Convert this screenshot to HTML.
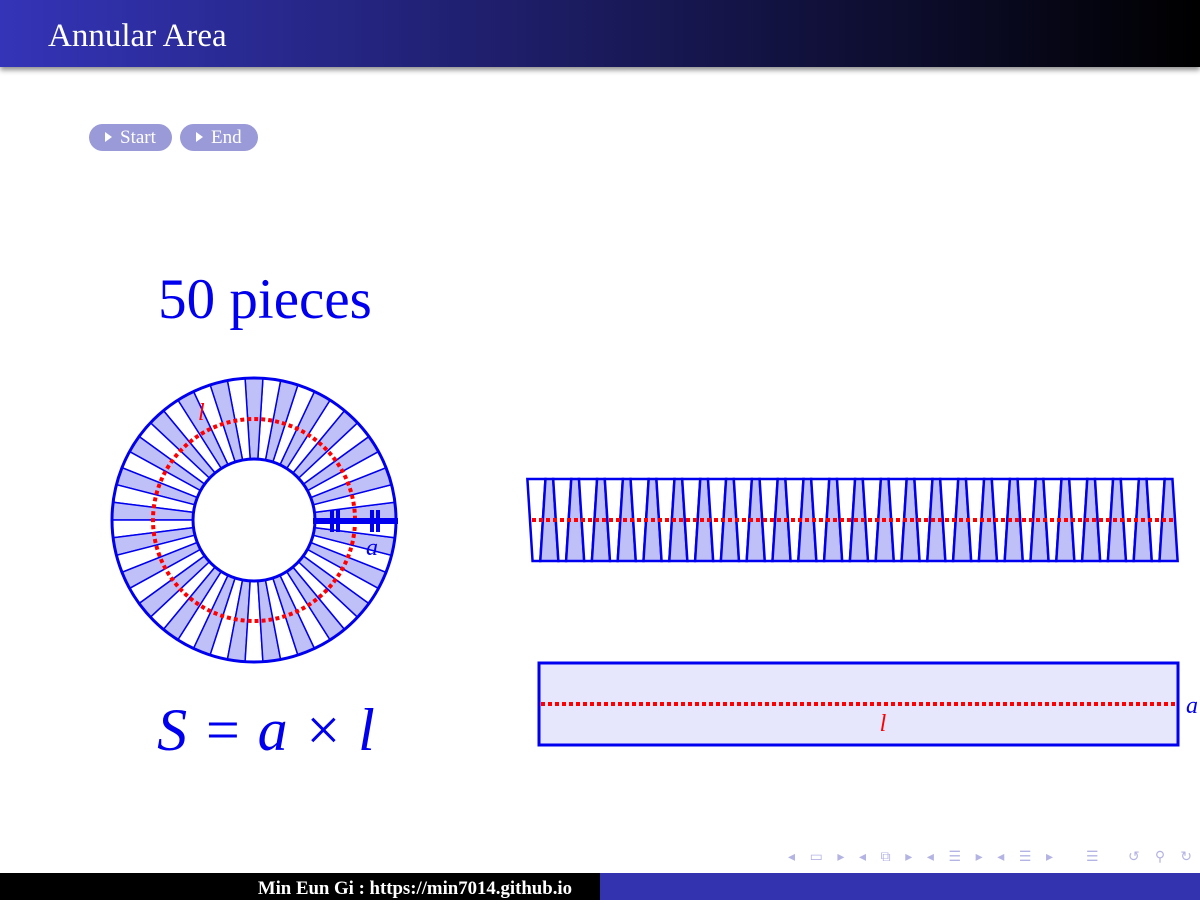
<!DOCTYPE html>
<html><head><meta charset="utf-8"><style>
body{margin:0;width:1200px;height:900px;overflow:hidden;background:#fff;font-family:"Liberation Serif",serif;position:relative}
#hdr{position:absolute;left:0;top:0;width:1200px;height:67px;background:linear-gradient(90deg,#3434b8,#000);box-shadow:0 3px 5px rgba(0,0,0,.45)}
#hdr span{position:absolute;left:48px;top:18px;color:#fff;font-size:33px}
.btn{position:absolute;top:124px;height:27px;border-radius:14px;background:#9a9ad8;color:#fff;font-size:19px;line-height:27px;padding:0 16px 0 16px}
.btn:before{content:"";display:inline-block;border-left:7px solid #fff;border-top:5px solid transparent;border-bottom:5px solid transparent;margin-right:8px;vertical-align:1px}
#ft1{position:absolute;left:0;top:873px;width:600px;height:27px;background:#000;color:#fff;font-size:18.8px;font-weight:bold;line-height:32px}
#ft1 span{position:absolute;right:28px}
#ft2{position:absolute;left:600px;top:873px;width:600px;height:27px;background:#3333b0}
</style></head><body>
<div id="hdr"><span>Annular Area</span></div>
<div class="btn" style="left:89px">Start</div>
<div class="btn" style="left:180px">End</div>
<svg id="fig" width="1200" height="900" style="position:absolute;left:0;top:0">
<text x="265" y="318" font-size="57" fill="#0000ee" text-anchor="middle" font-family="Liberation Serif">50 pieces</text>
<g id="ann"></g>
<g id="strip"></g>
<rect x="539" y="663" width="639" height="82" fill="#e6e6fc" stroke="#0000ee" stroke-width="3"/>
<line x1="541" y1="704" x2="1176" y2="704" stroke="#f00" stroke-width="4" stroke-dasharray="4,3"/>
<text x="883" y="731" font-size="24" fill="#f00" font-style="italic" text-anchor="middle">l</text>
<text x="1186" y="713" font-size="24" fill="#0000ee" font-style="italic">a</text>
<text x="266" y="750" font-size="60" fill="#0000ee" font-style="italic" text-anchor="middle">S = a × l</text>
<g fill="#b4b4e4" font-size="14">
<text x="788" y="861" textLength="265">◂ ▭ ▸ ◂ ⧉ ▸ ◂ ☰ ▸ ◂ ☰ ▸</text>
<text x="1086" y="861">☰</text>
<text x="1128" y="861" textLength="64">↺ ⚲ ↻</text>
</g>
</svg>
<div id="ft1"><span>Min Eun Gi : https://min7014.github.io</span></div>
<div id="ft2"></div>
<script>
const pieceCount = 50;
const outerR = 142, innerR = 61, midR = 101;
const NS = "http://www.w3.org/2000/svg";
function mk(t, a, p){const e=document.createElementNS(NS,t);for(const k in a)e.setAttribute(k,a[k]);p.appendChild(e);return e;}
const cx=254, cy=520, ann=document.getElementById('ann');
for(let i=0;i<pieceCount;i++){
  const a0=i*2*Math.PI/pieceCount, a1=(i+1)*2*Math.PI/pieceCount;
  const p=(r,a)=>(cx+r*Math.cos(a)).toFixed(2)+","+(cy-r*Math.sin(a)).toFixed(2);
  const el=mk('path',{d:`M${p(innerR,a0)}L${p(outerR,a0)}A${outerR},${outerR} 0 0 0 ${p(outerR,a1)}L${p(innerR,a1)}A${innerR},${innerR} 0 0 1 ${p(innerR,a0)}Z`,fill:i%2?'#fff':'#c0c0f8',stroke:'#0000ee','stroke-width':1.5},ann);
  
  
}
let c=mk('circle',{cx,cy,r:outerR,fill:'none',stroke:'#0000ee','stroke-width':3},ann);

c=mk('circle',{cx,cy,r:innerR,fill:'#fff',stroke:'#0000ee','stroke-width':3},ann);

c=mk('circle',{cx,cy,r:midR,fill:'none',stroke:'#f00','stroke-width':4,'stroke-dasharray':'4,3'},ann);

c=mk('line',{x1:cx+innerR-2,y1:cy+1,x2:cx+outerR+2,y2:cy+1,stroke:'#0000ee','stroke-width':6},ann);

[332,338,372,378].forEach(x=>{const t=mk('line',{x1:x,y1:cy-10,x2:x,y2:cy+12,stroke:'#0000ee','stroke-width':4},ann);
 });
let lbl=mk('text',{x:366,y:555,'font-size':24,fill:'#0000ee','font-style':'italic'},ann);lbl.textContent='a';

lbl=mk('text',{x:198,y:420,'font-size':24,fill:'#f00','font-style':'italic'},ann);lbl.textContent='l';

const st=document.getElementById('strip');
const stripTop=479, stripBot=561, x0=530, pitch=(1175-x0)/pieceCount;
const wOut=pitch*outerR/midR, wIn=pitch*innerR/midR;
for(let i=0;i<pieceCount;i++){
  const m=x0+(i+0.5)*pitch;
  const tw=i%2?wIn:wOut, bw=i%2?wOut:wIn;
  const e=mk('polygon',{points:`${m-tw/2},${stripTop} ${m+tw/2},${stripTop} ${m+bw/2},${stripBot} ${m-bw/2},${stripBot}`,fill:i%2?'#c0c0f8':'#fff',stroke:'#0000ee','stroke-width':2.5},st);
  
  
}
c=mk('line',{x1:x0+2,y1:520,x2:1175,y2:520,stroke:'#f00','stroke-width':4,'stroke-dasharray':'4,3'},st);

</script>
</body></html>
